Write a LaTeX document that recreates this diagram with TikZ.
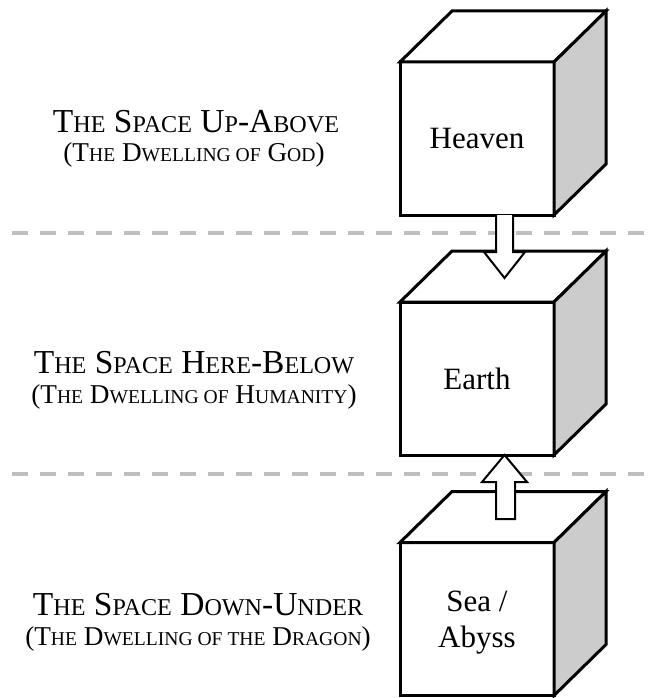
\documentclass[tikz,border=0pt]{standalone}
\usepackage{fontspec}
\setmainfont{Liberation Serif}
\usetikzlibrary{calc}
\newcommand{\fsc}[1]{\scalebox{0.72}{#1}}
\definecolor{sidegray}{HTML}{CCCCCC}
\definecolor{dashgray}{HTML}{BFBFBF}
\tikzset{
  front/.style={draw=black, line width=3pt, fill=white, minimum width=154pt, minimum height=153pt,
    inner sep=0pt, outer sep=0pt},
  boxtext/.style={inner sep=0pt, align=center, font=\fontsize{31}{36}\selectfont},
  face/.style={draw=black, line width=3pt, line join=miter},
  divider/.style={draw=dashgray, line width=4pt, dash pattern=on 16pt off 12pt},
  bigarrow/.style={draw=black, line width=2pt, fill=white, line join=miter},
  titleA/.style={anchor=base, inner sep=0pt, font=\fontsize{33.5}{36}\selectfont},
  titleB/.style={anchor=base, inner sep=0pt, font=\fontsize{27.2}{30}\selectfont},
}
\begin{document}
\begin{tikzpicture}[x=1pt, y=-1pt]
\useasboundingbox (0,0) rectangle (652,698);
% dividers
\coordinate (d1a) at (12,233); \coordinate (d1b) at (648,233);
\coordinate (d2a) at (12,474); \coordinate (d2b) at (648,474);
\draw[divider] (d1a) -- (d1b);
\draw[divider] (d2a) -- (d2b);
% cubes
\def\dx{52}\def\dy{-51}
\foreach \nm/\cy/\ty/\txt in {heaven/138.5/0/Heaven, earth/378.5/0/Earth, sea/619/3.5/{Sea /\\Abyss}} {
  \node[front] (\nm) at (477,\cy) {};
  \draw[face, fill=white] (\nm.north west) -- ++(\dx,\dy) -- ++(154,0) -- (\nm.north east) -- cycle;
  \draw[face, fill=sidegray] (\nm.north east) -- ++(\dx,\dy) -- ++(0,153) -- (\nm.south east) -- cycle;
  \node[boxtext] (\nm-label) at ($(\nm.center)+(0,\ty)$) {\txt};
}
% down arrow Heaven -> Earth
\draw[bigarrow] ($(heaven.south)+(19,0)$) -- ++(0,37) -- ++(-12,0) -- ++(20.5,26) -- ++(20.5,-26) -- ++(-12,0) -- ++(0,-37);
% up arrow Sea -> Earth
\draw[bigarrow] ($(earth.south)+(27.5,0)$) -- ++(22.5,27) -- ++(-12,0) -- ++(0,37) -- ++(-19,0) -- ++(0,-37) -- ++(-14,0) -- cycle;
% titles
\node[titleA] (t1a) at (196,132) {T\fsc{HE} S\fsc{PACE} U\fsc{P}-A\fsc{BOVE}};
\node[titleB] (t1b) at (194,161) {(T\fsc{HE} D\fsc{WELLING OF} G\fsc{OD})};
\node[titleA] (t2a) at (194,373) {T\fsc{HE} S\fsc{PACE} H\fsc{ERE}-B\fsc{ELOW}};
\node[titleB] (t2b) at (194,403) {(T\fsc{HE} D\fsc{WELLING OF} H\fsc{UMANITY})};
\node[titleA] (t3a) at (198,615) {T\fsc{HE} S\fsc{PACE} D\fsc{OWN}-U\fsc{NDER}};
\node[titleB] (t3b) at (198,645) {(T\fsc{HE} D\fsc{WELLING OF THE} D\fsc{RAGON})};
\end{tikzpicture}
\end{document}
